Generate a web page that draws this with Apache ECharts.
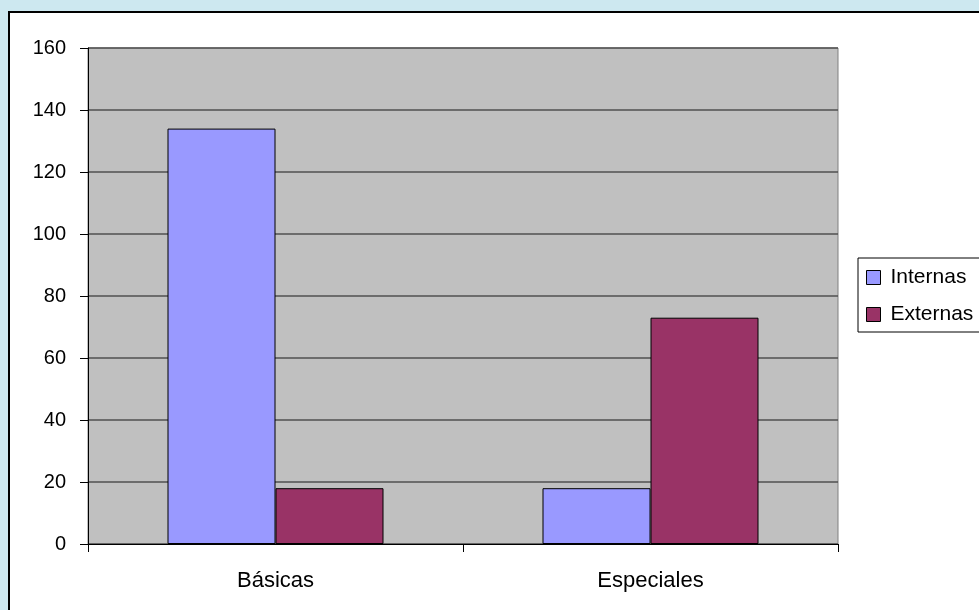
<!DOCTYPE html>
<html>
<head>
<meta charset="utf-8">
<script src="https://cdn.jsdelivr.net/npm/echarts@6/dist/echarts.min.js"></script>
<style>
  html, body { margin: 0; padding: 0; background: #cde8f0; }
  #chart { position: absolute; left: 0; top: 0; width: 979px; height: 610px; }
</style>
</head>
<body>
<div id="chart"></div>
<script>
const categories = ['Básicas', 'Especiales']
const internas = [134, 18]
const externas = [18, 73]
const yTicks = { min: 0, max: 160, interval: 20 }

const chart = echarts.init(document.getElementById('chart'))

const option = {
  backgroundColor: '#cde8f0',
  animation: false,
  textStyle: { fontFamily: 'Liberation Sans, Arial, sans-serif' },
  graphic: [
    {
      type: 'rect',
      left: 8,
      top: 11,
      shape: { width: 990, height: 620 },
      style: { fill: '#ffffff', stroke: '#000000', lineWidth: 2 },
      z: -10,
    },
  ],
  grid: {
    left: 88,
    top: 48,
    width: 750,
    height: 496,
    show: true,
    backgroundColor: '#c0c0c0',
    borderColor: '#808080',
    borderWidth: 1,
  },
  legend: {
    left: 858,
    top: 258,
    orient: 'vertical',
    itemWidth: 14,
    itemHeight: 14,
    itemGap: 16,
    padding: [9, 40, 7, 8],
    borderColor: '#000000',
    borderWidth: 1,
    backgroundColor: '#ffffff',
    textStyle: { fontSize: 21, color: '#000000', fontFamily: 'Liberation Sans', padding: [0, 0, 0, 5] },
    itemStyle: { borderColor: '#000000', borderWidth: 1 },
    data: [
      { name: 'Internas', icon: 'rect' },
      { name: 'Externas', icon: 'rect' },
    ],
  },
  xAxis: {
    type: 'category',
    data: categories,
    axisLine: { lineStyle: { color: '#000000', width: 1 } },
    axisTick: { show: true, length: 8, alignWithLabel: false, lineStyle: { color: '#000000' } },
    axisLabel: { fontSize: 22, color: '#000000', margin: 26 },
    splitLine: { show: false },
  },
  yAxis: {
    type: 'value',
    min: yTicks.min,
    max: yTicks.max,
    interval: yTicks.interval,
    axisLine: { show: true, lineStyle: { color: '#000000', width: 1 } },
    axisTick: { show: true, length: 8, lineStyle: { color: '#000000' } },
    axisLabel: { fontSize: 20, color: '#000000', margin: 22 },
    splitLine: { show: true, lineStyle: { color: '#505050', width: 1.5 } },
  },
  series: [
    {
      name: 'Internas',
      type: 'bar',
      data: internas,
      barWidth: 108,
      barGap: '0%',
      itemStyle: { color: '#9999ff', borderColor: '#000000', borderWidth: 1 },
    },
    {
      name: 'Externas',
      type: 'bar',
      data: externas,
      barWidth: 108,
      barGap: '0%',
      itemStyle: { color: '#993366', borderColor: '#000000', borderWidth: 1 },
    },
  ],
}

chart.setOption(option)
</script>
</body>
</html>
